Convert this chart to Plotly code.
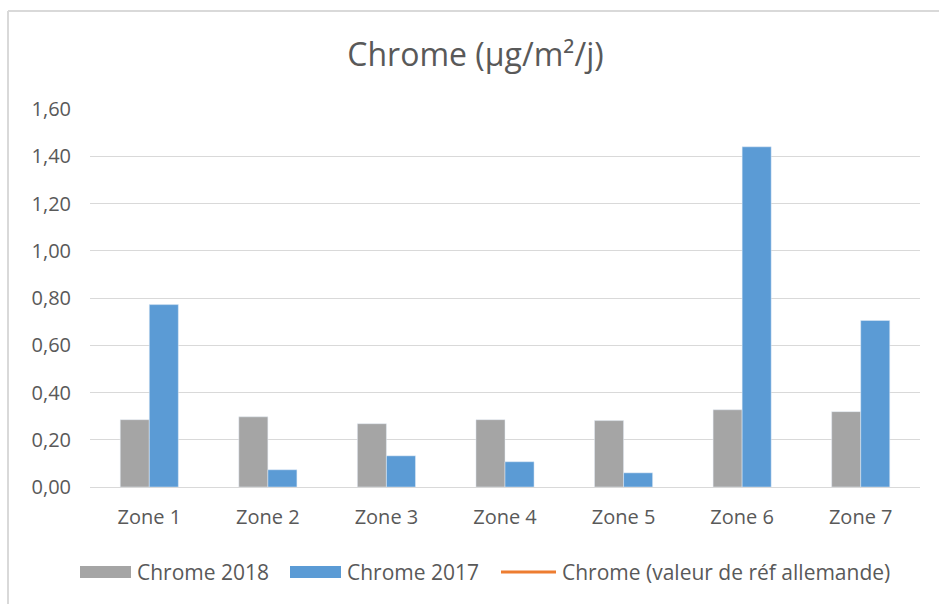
import plotly.graph_objects as go

# Données (µg/m²/j)
zones = ["Zone 1", "Zone 2", "Zone 3", "Zone 4", "Zone 5", "Zone 6", "Zone 7"]
chrome_2018 = [0.285, 0.297, 0.268, 0.285, 0.281, 0.327, 0.319]
chrome_2017 = [0.772, 0.073, 0.132, 0.107, 0.060, 1.440, 0.705]
chrome_ref = [None, None, None, None, None, None, None]  # valeur de réf : hors graphique

y_ticks = [0, 0.2, 0.4, 0.6, 0.8, 1.0, 1.2, 1.4, 1.6]

W, H = 939, 604
L, R, T, B = 90, 19, 109, 117
PLOT_W = W - L - R
PLOT_H = H - T - B

TEXT = "#595959"
GRID = "#D9D9D9"
GRAY = "#A5A5A5"
BLUE = "#5B9BD5"
ORANGE = "#ED7D31"
FONT = "Open Sans"


def px_x(px):
    return (px - L) / PLOT_W


def px_y(py):
    return (H - B - py) / PLOT_H


fig = go.Figure()
fig.add_trace(go.Bar(x=zones, y=chrome_2018, name="Chrome 2018", marker_color=GRAY, showlegend=False))
fig.add_trace(go.Bar(x=zones, y=chrome_2017, name="Chrome 2017", marker_color=BLUE, showlegend=False))
fig.add_trace(
    go.Scatter(
        x=zones, y=chrome_ref, mode="lines", name="Chrome (valeur de réf allemande)",
        line=dict(color=ORANGE, width=3), showlegend=False,
    )
)

# Légende dessinée à la manière d'Excel (pastilles larges)
legend_items = [
    ("rect", GRAY, 80, 131, "Chrome 2018"),
    ("rect", BLUE, 290, 341, "Chrome 2017"),
    ("line", ORANGE, 501, 556, "Chrome (valeur de réf allemande)"),
]
shapes = []
annotations = []
ly = 572
for kind, color, x0, x1, label in legend_items:
    if kind == "rect":
        shapes.append(dict(
            type="rect", xref="paper", yref="paper",
            x0=px_x(x0), x1=px_x(x1), y0=px_y(ly - 6), y1=px_y(ly + 6),
            fillcolor=color, line=dict(width=0),
        ))
    else:
        shapes.append(dict(
            type="line", xref="paper", yref="paper",
            x0=px_x(x0), x1=px_x(x1), y0=px_y(ly), y1=px_y(ly),
            line=dict(color=color, width=3),
        ))
    annotations.append(dict(
        text=label, xref="paper", yref="paper", x=px_x(x1 + 4), y=px_y(ly),
        xanchor="left", yanchor="middle", showarrow=False,
        font=dict(family=FONT, size=21, color=TEXT),
    ))

# Cadre du graphique (seuls les bords haut et gauche sont visibles)
shapes.append(dict(
    type="line", xref="paper", yref="paper",
    x0=px_x(8), x1=px_x(W), y0=px_y(11), y1=px_y(11),
    line=dict(color=GRID, width=2), layer="below",
))
shapes.append(dict(
    type="line", xref="paper", yref="paper",
    x0=px_x(8), x1=px_x(8), y0=px_y(11), y1=px_y(H),
    line=dict(color=GRID, width=2), layer="below",
))

fig.update_layout(
    width=W,
    height=H,
    margin=dict(l=L, r=R, t=T, b=B),
    paper_bgcolor="white",
    plot_bgcolor="white",
    separators=", ",
    barmode="group",
    bargap=0.51,
    bargroupgap=0,
    title=dict(
        text="Chrome (µg/m²/j)",
        x=475.5 / W, xref="container", xanchor="center",
        y=1 - 55 / H, yref="container", yanchor="middle",
        font=dict(family=FONT, size=32, color=TEXT),
    ),
    shapes=shapes,
    annotations=annotations,
    font=dict(family=FONT, color=TEXT),
)

fig.update_xaxes(
    showgrid=False, showline=False, zeroline=False,
    tickfont=dict(family=FONT, size=20, color=TEXT),
    ticks="", ticklabelstandoff=16,
)
fig.update_yaxes(
    range=[0, 1.6], tickvals=y_ticks, tickformat=".2f",
    showgrid=True, gridcolor=GRID, gridwidth=1,
    zeroline=True, zerolinecolor=GRID, zerolinewidth=1,
    showline=False, ticks="", ticklabelstandoff=18,
    tickfont=dict(family=FONT, size=20, color=TEXT),
)

# la page ajoute une marge de 8 px autour du graphique : on la retire
fig.write_html(
    "out.html",
    config={"displayModeBar": False},
    post_script="document.body.style.margin='0';",
)
